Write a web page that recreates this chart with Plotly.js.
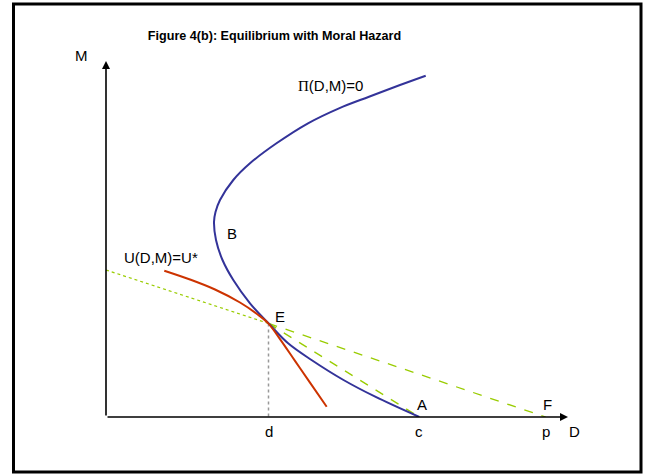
<!DOCTYPE html>
<html>
<head>
<meta charset="utf-8">
<script src="https://cdn.plot.ly/plotly-3.0.1.min.js"></script>
<style>
  html, body { margin: 0; padding: 0; background: #fff; }
  #chart { width: 646px; height: 475px; }
</style>
</head>
<body>
<div id="chart"></div>
<script>
// ---- Data (abstract units; origin at axes corner) ----
// Zero-profit curve Pi(D,M)=0
const piD = [319.7, 294, 263, 233, 202, 170.5, 144, 127.3, 114, 109.5, 108, 110, 116.5, 127.3, 144, 162.5, 182.1, 205.5, 237.5, 269.2, 313.3];
const piM = [341.3, 332, 320.3, 308.7, 293.7, 273.7, 253.7, 237, 217, 205, 195, 177, 157, 137, 113.7, 93.7, 73.7, 57, 37, 20.3, 0];
// Indifference curve U(D,M)=U*
const uD = [58.3, 84, 109, 134, 152, 162.5, 174, 189, 204, 220.7];
const uM = [146.3, 137.5, 127.5, 114.5, 102.3, 93.4, 77.9, 56.1, 34.4, 10.2];
// Key points
const pointE = {D: 162.5, M: 93.6};
const interceptM = 147;      // green dotted line meets the M axis
const cD = 313.3;            // point A / c
const pD = 439.7;            // point F / p
const axisMaxD = 462, axisMaxM = 356;
const tickLabels = ["d", "c", "p"];
const tickValues = [pointE.D, cD, pD];

// ---- Styles ----
const BLUE = "#333399", RED = "#cc3300", GREEN = "#99cc00";
const FONT = "Arial, 'Liberation Sans', sans-serif";

const traces = [
  { // dotted green from the M axis to E
    x: [0, pointE.D], y: [interceptM, pointE.M], mode: "lines",
    line: {color: GREEN, width: 1.2, dash: "dot"}, hoverinfo: "skip"
  },
  { // dashed green E to F
    x: [pointE.D, pD], y: [pointE.M, 0], mode: "lines",
    line: {color: GREEN, width: 1.3, dash: "dash"}, hoverinfo: "skip"
  },
  { // dashed green E to A
    x: [pointE.D, cD], y: [pointE.M, 0], mode: "lines",
    line: {color: GREEN, width: 1.3, dash: "dash"}, hoverinfo: "skip"
  },
  { // dotted gray drop line from E
    x: [pointE.D, pointE.D], y: [pointE.M, 0], mode: "lines",
    line: {color: "#999999", width: 1.5, dash: "dot"}, hoverinfo: "skip"
  },
  { // Pi curve
    x: piD, y: piM, mode: "lines",
    line: {color: BLUE, width: 2, shape: "spline", smoothing: 1}, hoverinfo: "skip"
  },
  { // U curve
    x: uD, y: uM, mode: "lines",
    line: {color: RED, width: 2, shape: "spline", smoothing: 1}, hoverinfo: "skip"
  }
];

const L = 106, T = 61, W = 462, H = 356;
const px2x = px => (px - L) / W;          // paper x from pixel
const py2y = py => (T + H - py) / H;      // paper y from pixel

const labelFont = {family: FONT, size: 15, color: "#000"};
function lab(text, x, y, xref, yref) {
  return {text: text, x: x, y: y, xref: xref || "x", yref: yref || "y",
          showarrow: false, font: labelFont, xanchor: "center", yanchor: "middle"};
}

const annotations = [
  // axes with arrow heads
  {x: axisMaxD, y: 0, ax: 0, ay: 0, xref: "x", yref: "y", axref: "x", ayref: "y",
   text: "", showarrow: true, arrowhead: 2, arrowsize: 1, arrowwidth: 1.6, arrowcolor: "#000", standoff: 0},
  {x: 0, y: axisMaxM, ax: 0, ay: 0, xref: "x", yref: "y", axref: "x", ayref: "y",
   text: "", showarrow: true, arrowhead: 2, arrowsize: 1, arrowwidth: 1.6, arrowcolor: "#000", standoff: 0},
  // axis names
  lab("M", px2x(81), py2y(55), "paper", "paper"),
  lab("D", px2x(574.5), py2y(431), "paper", "paper"),
  // curve labels
  lab("<span style='font-family:\"Times New Roman\",\"Liberation Serif\",serif'>Π</span>(D,M)=0", 224.5, 417 - 85),
  lab("U(D,M)=U*", 161 - L, 417 - 257.5),
  lab("B", 231.7 - L, 417 - 233.5),
  lab("E", 279.5 - L, 417 - 316),
  lab("A", cD + 2.5, 417 - 404.5),
  lab("F", pD + 1.5, 417 - 404.5)
];
// tick labels below the D axis
for (let i = 0; i < tickLabels.length; i++) {
  annotations.push(lab(tickLabels[i], tickValues[i], py2y(431), "x", "paper"));
}

const layout = {
  width: 646, height: 475,
  margin: {l: L, r: 646 - L - W, t: T, b: 475 - T - H, pad: 0},
  paper_bgcolor: "#ffffff", plot_bgcolor: "#ffffff",
  showlegend: false,
  title: {
    text: "<b>Figure 4(b): Equilibrium with Moral Hazard</b>",
    font: {family: FONT, size: 12.6, color: "#000"},
    xref: "paper", x: px2x(274.5), xanchor: "center",
    yref: "container", y: 1 - 36 / 475, yanchor: "middle"
  },
  xaxis: {range: [0, axisMaxD], showgrid: false, zeroline: false, showline: false,
          showticklabels: false, ticks: "", fixedrange: true},
  yaxis: {range: [0, axisMaxM], showgrid: false, zeroline: false, showline: false,
          showticklabels: false, ticks: "", fixedrange: true},
  shapes: [
    {type: "rect", xref: "paper", yref: "paper",
     x0: px2x(13.5), x1: px2x(641), y0: py2y(472), y1: py2y(4),
     line: {color: "#000", width: 3}, fillcolor: "rgba(0,0,0,0)", layer: "below"}
  ],
  annotations: annotations
};

Plotly.newPlot("chart", traces, layout, {displayModeBar: false, staticPlot: true});
</script>
</body>
</html>
